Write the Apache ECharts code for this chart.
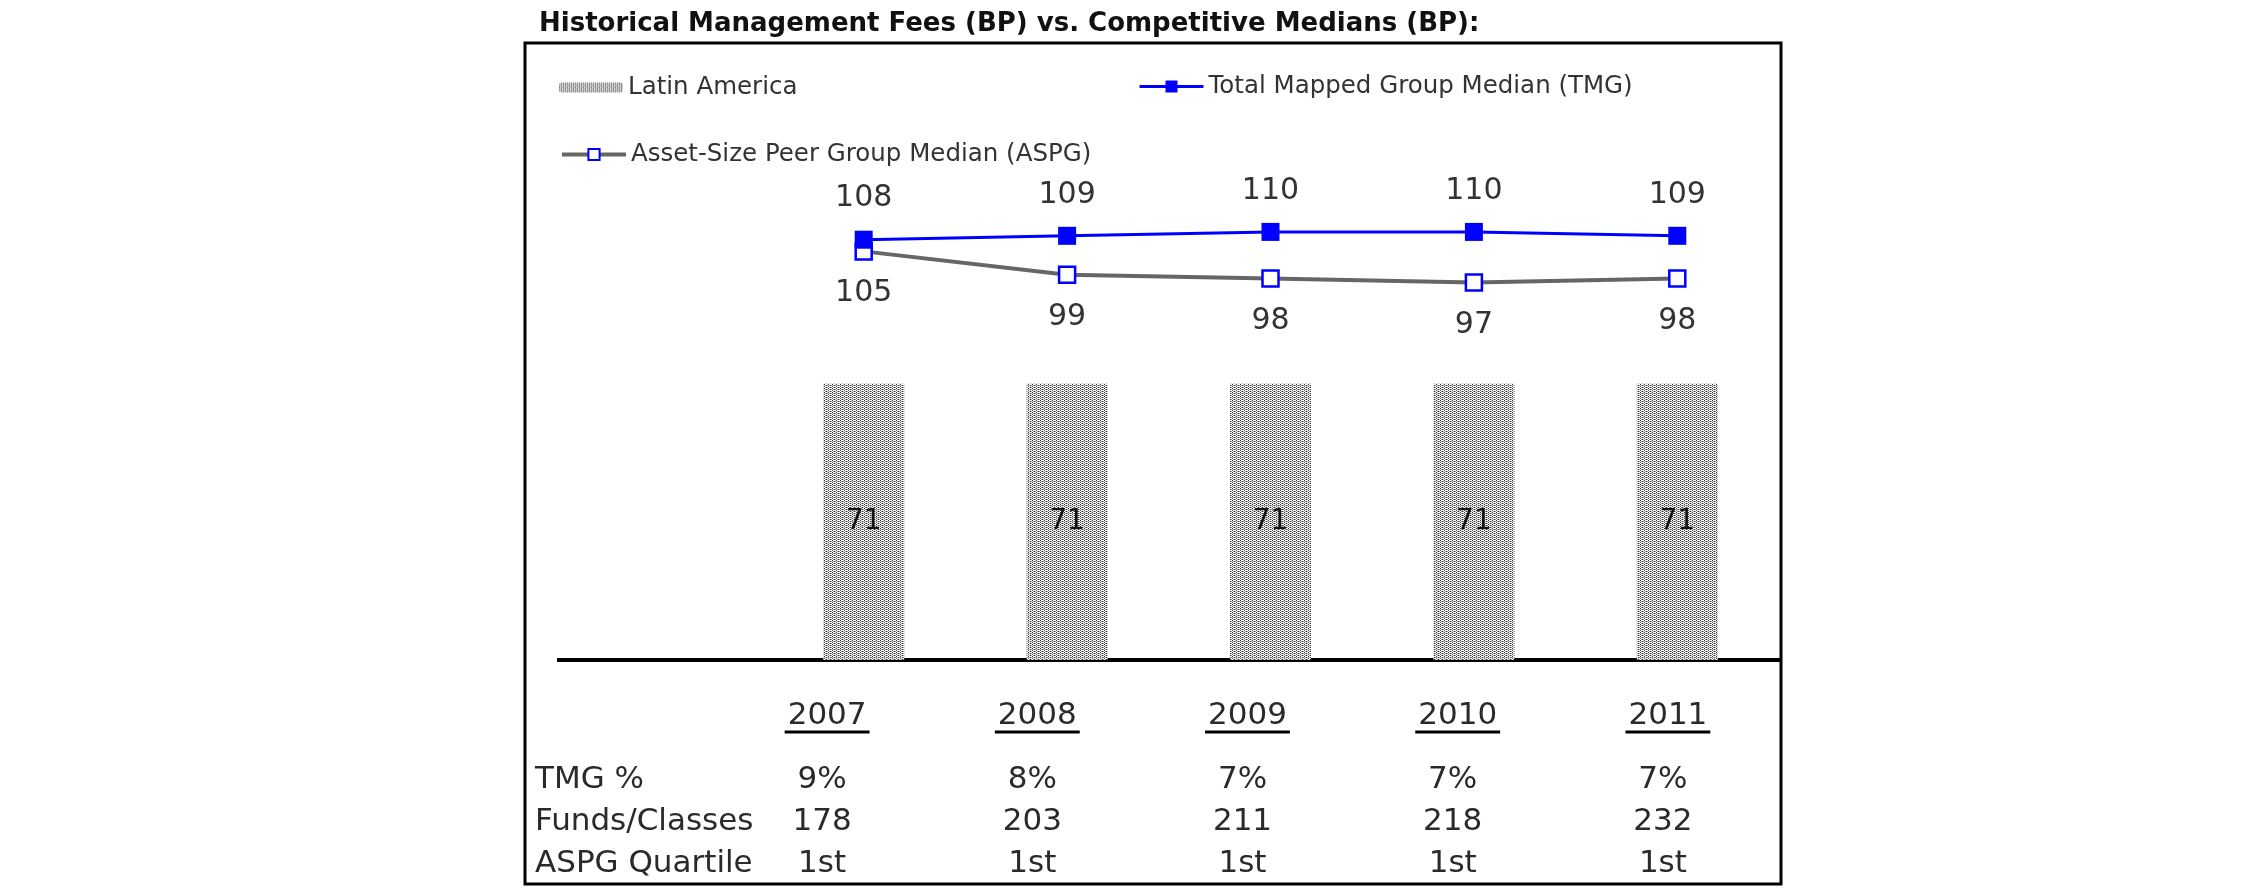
<!DOCTYPE html>
<html><head><meta charset="utf-8">
<script src="https://cdn.jsdelivr.net/npm/echarts@6/dist/echarts.min.js"></script>
<style>html,body{margin:0;padding:0;background:#fff}#c{width:2250px;height:895px}</style>
</head><body><div id="c"></div>
<script>
const titleText = 'Historical Management Fees (BP) vs. Competitive Medians (BP):';
const categories = ['2007', '2008', '2009', '2010', '2011'];
const latinAmerica = [71, 71, 71, 71, 71];
const tmgMedian = [108, 109, 110, 110, 109];
const aspgMedian = [105, 99, 98, 97, 98];
const rowLabels = ['TMG %', 'Funds/Classes', 'ASPG Quartile'];
const tmgPct = ['9%', '8%', '7%', '7%', '7%'];
const fundsClasses = ['178', '203', '211', '218', '232'];
const aspgQuartile = ['1st', '1st', '1st', '1st', '1st'];
const seriesNames = ['Latin America', 'Total Mapped Group Median (TMG)', 'Asset-Size Peer Group Median (ASPG)'];

const FONT = 'DejaVu Sans';

function makePattern() {
  const c = document.createElement('canvas'); c.width = 4; c.height = 4;
  const g = c.getContext('2d');
  g.fillStyle = '#fff'; g.fillRect(0, 0, 4, 4);
  const px = (x, y, col) => { g.fillStyle = col; g.fillRect(x, y, 1, 1); };
  px(0, 0, '#333'); px(2, 1, '#444'); px(0, 2, '#555'); px(2, 3, '#333');
  px(1, 1, '#aaa'); px(3, 3, '#aaa'); px(1, 3, '#999'); px(3, 1, '#999');
  px(0, 1, '#ddd'); px(2, 2, '#ddd');
  return c;
}
const pattern = { image: makePattern(), repeat: 'repeat' };

const chart = echarts.init(document.getElementById('c'), null, { renderer: 'canvas' });
const legendText = { fontFamily: FONT, fontSize: 24.5, color: '#333' };

const option = {
  animation: false,
  backgroundColor: '#fff',
  title: {
    text: titleText, left: 534, top: 6,
    textStyle: { fontFamily: FONT, fontWeight: 'bold', fontSize: 26, color: '#111' }
  },
  legend: [
    { data: [seriesNames[0]], left: 559, top: 75, padding: 0, itemWidth: 64, itemHeight: 10, textStyle: legendText },
    { data: [seriesNames[1]], left: 1138, top: 74, padding: 0, itemWidth: 64, itemHeight: 15, textStyle: legendText,
      lineStyle: { width: 3, color: '#0000ff' } },
    { data: [seriesNames[2]], left: 560, top: 142, padding: 0, itemWidth: 64, itemHeight: 14, textStyle: legendText,
      lineStyle: { width: 4, color: '#666' } }
  ],
  grid: [
    { left: 762, right: 471, top: 193, bottom: 235 },
    { left: 722, width: 1051, top: 700, height: 150 }
  ],
  xAxis: [
    { type: 'category', data: categories, gridIndex: 0, show: false },
    { type: 'category', data: categories, gridIndex: 1, show: false }
  ],
  yAxis: [
    { type: 'value', min: 0, max: 120, gridIndex: 0, show: false },
    { type: 'value', gridIndex: 1, show: false }
  ],
  series: [
    {
      name: seriesNames[0], type: 'bar', data: latinAmerica, barWidth: 81,
      itemStyle: { color: pattern },
      label: { show: true, position: 'inside', fontFamily: FONT, fontSize: 28, color: '#111' }
    },
    {
      name: seriesNames[2], type: 'line', data: aspgMedian,
      lineStyle: { color: '#666', width: 4 },
      symbol: 'rect', symbolSize: 16,
      itemStyle: { color: '#fff', borderColor: '#0000ff', borderWidth: 2.5 },
      label: { show: true, position: 'bottom', distance: 18, fontFamily: FONT, fontSize: 30, color: '#333' },
      z: 3
    },
    {
      name: seriesNames[1], type: 'line', data: tmgMedian,
      lineStyle: { color: '#0000ff', width: 3 },
      symbol: 'rect', symbolSize: 18,
      itemStyle: { color: '#0000ff' },
      label: { show: true, position: 'top', distance: 17, fontFamily: FONT, fontSize: 30, color: '#333' },
      z: 4
    }
  ]
};
chart.setOption(option);

// Box, baseline and the data table, positioned from the library's scales
const y0 = chart.convertToPixel({ yAxisIndex: 0 }, 0);
const colX = categories.map(c => chart.convertToPixel({ xAxisIndex: 1 }, c));
const mctx = document.createElement('canvas').getContext('2d');
const tableFont = '31px "' + FONT + '"';
mctx.font = tableFont;

const gfx = [];
gfx.push({ type: 'rect', shape: { x: 525, y: 43, width: 1256, height: 841 }, style: { fill: null, stroke: '#000', lineWidth: 3 }, silent: true });
gfx.push({ type: 'line', shape: { x1: 557, y1: y0, x2: 1781, y2: y0 }, style: { stroke: '#000', lineWidth: 4 }, silent: true });

function txt(t, x, y, align) {
  return { type: 'text', x: x, y: y, silent: true,
    style: { text: t, font: tableFont, fill: '#2a2a2a', align: align, verticalAlign: 'middle', textAlign: align, textVerticalAlign: 'middle' } };
}
const yearY = 716, rowY = [780, 822, 864];
categories.forEach((c, i) => {
  const x = colX[i];
  gfx.push(txt(c, x, yearY, 'center'));
  const w = mctx.measureText(c).width;
  gfx.push({ type: 'line', shape: { x1: x - w / 2 - 3, y1: 732, x2: x + w / 2 + 3, y2: 732 }, style: { stroke: '#000', lineWidth: 3 }, silent: true });
});
const rows = [tmgPct, fundsClasses, aspgQuartile];
rowLabels.forEach((l, r) => {
  gfx.push(txt(l, 535, rowY[r], 'left'));
  rows[r].forEach((v, i) => gfx.push(txt(v, colX[i] - 5, rowY[r], 'center')));
});
chart.setOption({ graphic: { elements: gfx } });
</script>
</body></html>
